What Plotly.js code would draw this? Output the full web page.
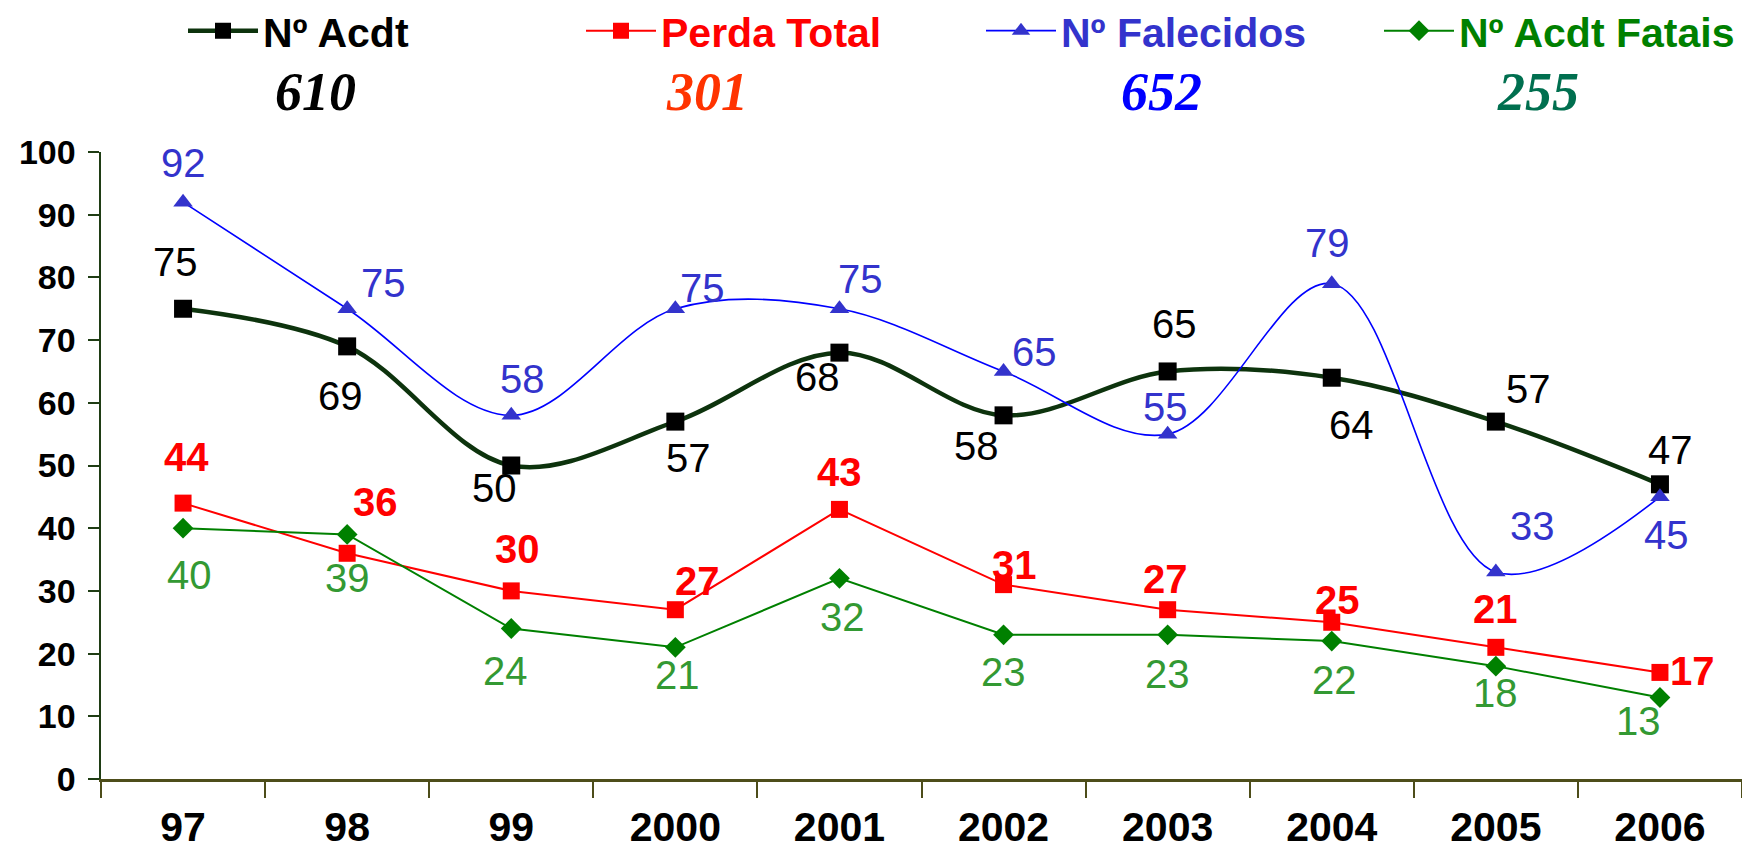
<!DOCTYPE html>
<html>
<head>
<meta charset="utf-8">
<script src="https://cdn.plot.ly/plotly-3.0.1.min.js"></script>
<style>html,body{margin:0;padding:0;background:#fff;}#chart{width:1742px;height:866px;}</style>
</head>
<body>
<div id="chart"></div>
<script>
// ---- data ----
const categories = ['97','98','99','2000','2001','2002','2003','2004','2005','2006'];
const nAcdt       = [75,69,50,57,68,58,65,64,57,47];
const perdaTotal  = [44,36,30,27,43,31,27,25,21,17];
const nFalecidos  = [92,75,58,75,75,65,55,79,33,45];
const nAcdtFatais = [40,39,24,21,32,23,23,22,18,13];
const seriesNames = ['Nº Acdt','Perda Total','Nº Falecidos','Nº Acdt Fatais'];
const yTicks = [0,10,20,30,40,50,60,70,80,90,100];

// ---- styles (label offsets in px: [dx, dy], dy down) ----
const offAcdt = [[-8,-47],[-7,50],[-17,22],[13,36],[-22,24],[-27,31],[7,-47],[20,47],[33,-33],[11,-34]];
const offPerda = [[3,-46],[28,-51],[6,-42],[22,-29],[0,-37],[11,-20],[-2,-31],[6,-22],[0,-38],[33,-1]];
const offFal = [[0,-39],[36,-26],[11,-36],[27,-21],[21,-30],[31,-19],[-2,-27],[-4,-41],[37,-46],[7,38]];
const offFat = [[6,47],[0,44],[-6,42],[2,28],[3,39],[0,37],[0,39],[3,39],[0,27],[-21,24]];

const FONT = 'Liberation Sans, Arial, sans-serif';
const series = [
  {y:nAcdt, name:seriesNames[0], line:{color:'#0d330d',width:4.5,shape:'spline',smoothing:1},
   marker:{symbol:'square',color:'#000000',size:18}, legendText:'#000000', legend:'legend',
   lab:{color:'#000000',weight:'normal'}, off:offAcdt},
  {y:perdaTotal, name:seriesNames[1], line:{color:'#ff0000',width:2},
   marker:{symbol:'square',color:'#ff0000',size:17}, legendText:'#ff0000', legend:'legend2',
   lab:{color:'#ff0000',weight:'bold'}, off:offPerda},
  {y:nFalecidos, name:seriesNames[2], line:{color:'#0000ff',width:1.6,shape:'spline',smoothing:1},
   marker:{symbol:'triangle-up',color:'#3333cc',size:17}, legendText:'#3333cc', legend:'legend3',
   lab:{color:'#3333cc',weight:'normal'}, off:offFal},
  {y:nAcdtFatais, name:seriesNames[3], line:{color:'#008000',width:2},
   marker:{symbol:'diamond',color:'#008000',size:16}, legendText:'#008000', legend:'legend4',
   lab:{color:'#339933',weight:'normal'}, off:offFat}
];

const traces = series.map(s => ({
  type:'scatter', mode:'lines+markers', x:categories, y:s.y,
  name:'<span style="color:'+s.legendText+'">'+s.name+'</span>',
  line:s.line, marker:s.marker, legend:s.legend, hoverinfo:'x+y'
}));

const annotations = [];
series.forEach(s => {
  s.y.forEach((v,i) => {
    annotations.push({x:i, y:v, xref:'x', yref:'y', text:String(v), showarrow:false,
      xanchor:'center', yanchor:'middle',
      xshift:s.off[i][0], yshift:-s.off[i][1],
      font:{family:FONT, size:40, color:s.lab.color, weight:s.lab.weight}});
  });
});

// totals row
const totals = series.map(s => s.y.reduce((a,b)=>a+b,0));
const totalColors = ['#000000','#ff3300','#0000ff','#006f4f'];
const totalX = [315,707,1161,1538];
totals.forEach((t,k) => {
  annotations.push({xref:'paper', yref:'paper', x:(totalX[k]-101)/1641, y:(779-92)/627,
    xanchor:'center', yanchor:'middle', text:'<i><b>'+t+'</b></i>', showarrow:false,
    font:{family:'Liberation Serif, Times New Roman, serif', size:54, color:totalColors[k]}});
});

const legendBase = {orientation:'h', yref:'container', xref:'container', yanchor:'middle', xanchor:'left',
  y:1-31/866, bgcolor:'rgba(0,0,0,0)', font:{family:FONT, size:41, weight:'bold', color:'#000'}, itemwidth:70};
const legX = [183,581,981,1379];

const layout = {
  width:1742, height:866,
  margin:{l:101, r:0, t:152, b:87},
  paper_bgcolor:'#ffffff', plot_bgcolor:'#ffffff',
  showlegend:true,
  legend:Object.assign({}, legendBase, {x:legX[0]/1742}),
  legend2:Object.assign({}, legendBase, {x:legX[1]/1742}),
  legend3:Object.assign({}, legendBase, {x:legX[2]/1742}),
  legend4:Object.assign({}, legendBase, {x:legX[3]/1742}),
  xaxis:{type:'category', range:[-0.5,9.5], tickson:'boundaries', ticks:'outside', ticklen:16,
    tickcolor:'#4d4d1a', tickwidth:2, showline:true, linecolor:'#4d4d1a', linewidth:2.5,
    showgrid:false, zeroline:false, ticklabelstandoff:10,
    tickfont:{family:FONT, size:41, weight:'bold', color:'#000'}},
  yaxis:{range:[0,100], tickvals:yTicks, ticktext:yTicks.map(String), ticks:'outside', ticklen:11,
    tickcolor:'#1f3d14', tickwidth:2, showline:true, linecolor:'#1f3d14', linewidth:2.5,
    showgrid:false, zeroline:false, ticklabelstandoff:5,
    tickfont:{family:FONT, size:34, weight:'bold', color:'#000'}},
  annotations:annotations
};

Plotly.newPlot('chart', traces, layout, {displayModeBar:false, staticPlot:true});
</script>
</body>
</html>
